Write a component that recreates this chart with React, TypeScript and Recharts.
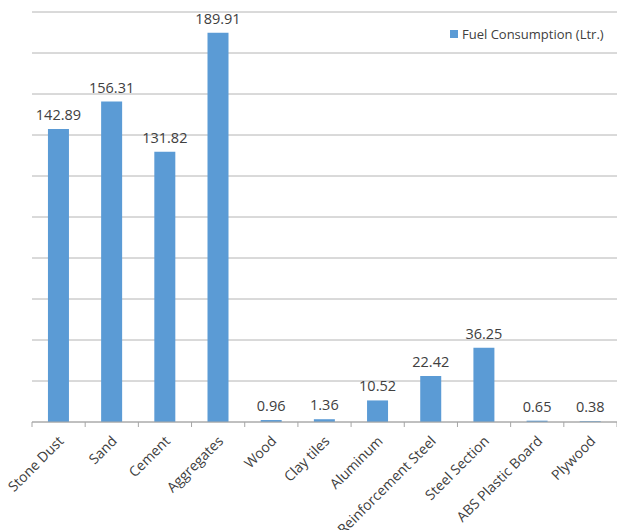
import { BarChart, Bar, XAxis, YAxis, CartesianGrid, LabelList } from "recharts";

const materials = [
  "Stone Dust",
  "Sand",
  "Cement",
  "Aggregates",
  "Wood",
  "Clay tiles",
  "Aluminum",
  "Reinforcement Steel",
  "Steel Section",
  "ABS Plastic Board",
  "Plywood",
];
const fuelLitres = [142.89, 156.31, 131.82, 189.91, 0.96, 1.36, 10.52, 22.42, 36.25, 0.65, 0.38];
const yTicks = [0, 20, 40, 60, 80, 100, 120, 140, 160, 180, 200];

const data = materials.map((name, i) => ({ name, fuel: fuelLitres[i] }));

const W = 617;
const H = 530;
const AXIS_H = 108;
const M = { top: 12, right: 0, left: 32, bottom: 0 };
const band = (W - M.left - M.right) / materials.length;
const FONT = "'Open Sans', sans-serif";
const BLUE = "#5b9bd5";

function CategoryTick(props: any) {
  const { x, y, payload, index } = props;
  const left = x - band / 2;
  return (
    <g>
      <line x1={left} x2={left} y1={y} y2={y + 5} stroke="#a6a6a6" />
      {index === materials.length - 1 && (
        <line x1={x + band / 2} x2={x + band / 2} y1={y} y2={y + 5} stroke="#a6a6a6" />
      )}
      <text
        transform={`translate(${x + 6},${y + 20}) rotate(-45)`}
        textAnchor="end"
        fontSize={14}
        fill="#404040"
        fontFamily={FONT}
      >
        {payload.value}
      </text>
    </g>
  );
}

function LegendBox() {
  return (
    <div
      style={{
        position: "absolute",
        top: 25,
        left: 450,
        display: "flex",
        alignItems: "center",
        fontFamily: FONT,
        fontSize: 13,
        color: "#404040",
        whiteSpace: "nowrap",
      }}
    >
      <span style={{ width: 8, height: 8, background: BLUE, marginRight: 4, display: "inline-block" }} />
      Fuel Consumption (Ltr.)
    </div>
  );
}

export default function App() {
  return (
    <div style={{ position: "absolute", left: 0, top: 0, width: W, height: H, background: "#fff" }}>
      <BarChart width={W} height={H} data={data} margin={M} barCategoryGap="30%">
        <CartesianGrid vertical={false} stroke="#b4b4b4" />
        <YAxis hide domain={[0, 200]} ticks={yTicks} />
        <XAxis
          dataKey="name"
          interval={0}
          tickSize={0}
          tickMargin={0}
          axisLine={{ stroke: "#a6a6a6" }}
          tick={<CategoryTick />}
          height={AXIS_H}
        />
        <Bar dataKey="fuel" fill={BLUE} isAnimationActive={false}>
          <LabelList
            dataKey="fuel"
            position="top"
            offset={9}
            fontSize={14.5}
            fill="#404040"
            fontFamily={FONT}
          />
        </Bar>
      </BarChart>
      <LegendBox />
    </div>
  );
}
